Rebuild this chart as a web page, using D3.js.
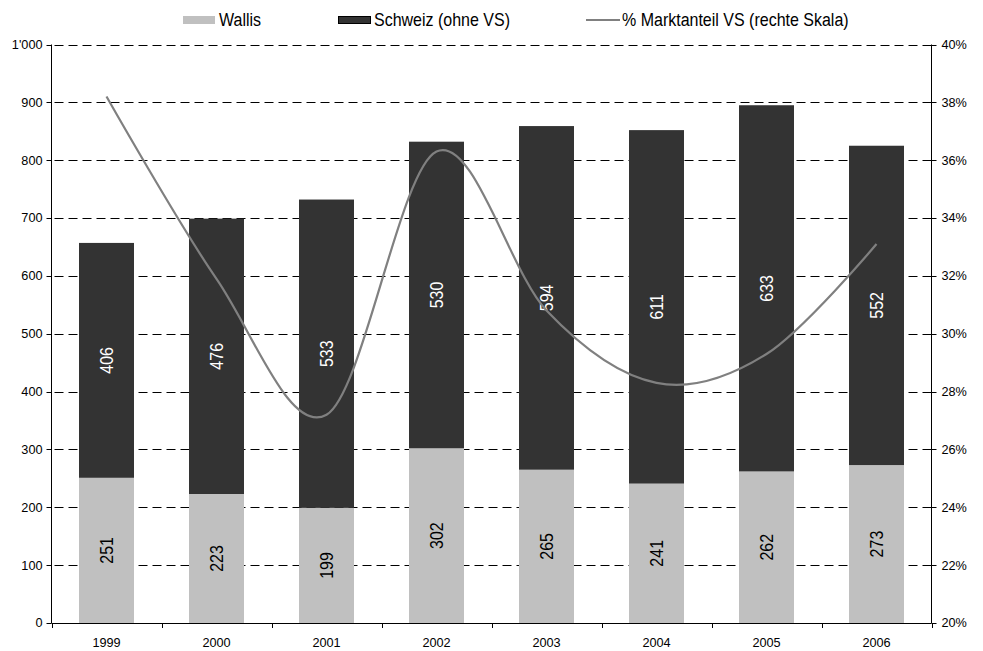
<!DOCTYPE html>
<html><head><meta charset="utf-8">
<script src="https://cdn.jsdelivr.net/npm/d3@7"></script>
<style>body{margin:0;background:#fff}svg{display:block;font-family:"Liberation Sans",Arial,sans-serif}</style>
</head><body><svg id="c" width="983" height="651"></svg>
<script>
const years = ["1999","2000","2001","2002","2003","2004","2005","2006"];
const wallis = [251,223,199,302,265,241,262,273];
const schweiz = [406,476,533,530,594,611,633,552];
const share = [38.2,31.9,27.2,36.3,30.8,28.3,29.3,33.1];
const leftTicks = [0,100,200,300,400,500,600,700,800,900,1000];
const leftTickLabels = ["0","100","200","300","400","500","600","700","800","900","1'000"];
const rightTicks = [20,22,24,26,28,30,32,34,36,38,40];
const seriesNames = ["Wallis","Schweiz (ohne VS)","% Marktanteil VS (rechte Skala)"];

const svg = d3.select("#c");
const L = 51.5, R = 931.5, T = 44.5, B = 623;
const x = d3.scaleBand().domain(years).range([L, R]).paddingInner(0.5).paddingOuter(0.25);
const y = d3.scaleLinear().domain([0, 1000]).range([B, T]);
const y2 = d3.scaleLinear().domain([20, 40]).range([B, T]);

// grid
svg.append("g").selectAll("line").data(leftTicks.filter(d => d > 0)).join("line")
  .attr("x1", L).attr("x2", R).attr("y1", d => Math.round(y(d)) + 0.5).attr("y2", d => Math.round(y(d)) + 0.5)
  .attr("stroke", "#000").attr("stroke-dasharray", "9,5").attr("stroke-dashoffset", -3).attr("stroke-width", 1);

// bars
const g = svg.append("g");
g.selectAll(".w").data(years).join("rect")
  .attr("x", d => x(d)).attr("width", x.bandwidth())
  .attr("y", (d, i) => y(wallis[i])).attr("height", (d, i) => B - y(wallis[i]))
  .attr("fill", "#c0c0c0");
g.selectAll(".s").data(years).join("rect")
  .attr("x", d => x(d)).attr("width", x.bandwidth())
  .attr("y", (d, i) => y(wallis[i] + schweiz[i])).attr("height", (d, i) => y(wallis[i]) - y(wallis[i] + schweiz[i]))
  .attr("fill", "#333333");

// bar labels
function lab(vals, base, color) {
  svg.append("g").selectAll("text").data(years).join("text")
    .attr("transform", (d, i) => {
      const b = base ? base[i] : 0;
      const cy = y(b + vals[i] / 2);
      const cx = x(d) + x.bandwidth() / 2;
      return `translate(${cx},${cy}) rotate(-90) scale(1,1.18)`;
    })
    .attr("text-anchor", "middle").attr("dy", "0.36em")
    .attr("fill", color).attr("font-size", 16)
    .text((d, i) => vals[i]);
}
lab(wallis, null, "#000");
lab(schweiz, wallis, "#fff");

// line
const line = d3.line().x((d, i) => x(years[i]) + x.bandwidth() / 2).y(d => y2(d)).curve(d3.curveCardinal.tension(0));
svg.append("path").datum(share).attr("d", line).attr("fill", "none")
  .attr("stroke", "#808080").attr("stroke-width", 2.2);

// left axis
const la = svg.append("g").attr("transform", `translate(${L},0)`);
la.append("line").attr("y1", T).attr("y2", B).attr("stroke", "#000");
la.selectAll(".t").data(leftTicks).join("line").attr("x1", -5).attr("x2", 0)
  .attr("y1", d => Math.round(y(d)) + 0.5).attr("y2", d => Math.round(y(d)) + 0.5).attr("stroke", "#000");
la.selectAll("text").data(leftTicks).join("text").attr("x", -9).attr("y", d => y(d)).attr("dy", "0.35em")
  .attr("text-anchor", "end").attr("font-size", 12.7).attr("fill", "#000").text((d, i) => leftTickLabels[i]);

// right axis
const ra = svg.append("g").attr("transform", `translate(${R},0)`);
ra.append("line").attr("y1", T).attr("y2", B).attr("stroke", "#000");
ra.selectAll(".t").data(rightTicks).join("line").attr("x1", 0).attr("x2", 5)
  .attr("y1", d => Math.round(y2(d)) + 0.5).attr("y2", d => Math.round(y2(d)) + 0.5).attr("stroke", "#000");
ra.selectAll("text").data(rightTicks).join("text").attr("x", 10).attr("y", d => y2(d)).attr("dy", "0.35em")
  .attr("text-anchor", "start").attr("font-size", 12.7).attr("fill", "#000").text(d => d + "%");

// bottom axis
const ba = svg.append("g");
ba.append("line").attr("x1", L).attr("x2", R).attr("y1", B + 0.5).attr("y2", B + 0.5).attr("stroke", "#000");
const bounds = d3.range(years.length + 1).map(i => L + i * (R - L) / years.length);
ba.selectAll(".t").data(bounds).join("line").attr("x1", d => Math.round(d) + 0.5).attr("x2", d => Math.round(d) + 0.5)
  .attr("y1", B).attr("y2", B + 5).attr("stroke", "#000");
ba.selectAll("text").data(years).join("text").attr("x", d => x(d) + x.bandwidth() / 2).attr("y", 646.5)
  .attr("text-anchor", "middle").attr("font-size", 12.7).attr("fill", "#000").text(d => d);

// legend
const lg = svg.append("g");
const lx = [183, 338, 586];
const tx = [219, 374, 622];
lg.append("rect").attr("x", lx[0]).attr("y", 16).attr("width", 32).attr("height", 8).attr("fill", "#c0c0c0");
lg.append("rect").attr("x", lx[1] + 0.5).attr("y", 16.5).attr("width", 32).attr("height", 7).attr("fill", "#333333").attr("stroke", "#000");
lg.append("line").attr("x1", lx[2]).attr("x2", lx[2] + 34).attr("y1", 20).attr("y2", 20).attr("stroke", "#808080").attr("stroke-width", 2.2);
lg.selectAll("text").data(seriesNames).join("text")
  .attr("transform", (d, i) => `translate(${tx[i]},26) scale(1,1.13)`)
  .attr("font-size", 16).attr("fill", "#000").text(d => d);
</script></body></html>
